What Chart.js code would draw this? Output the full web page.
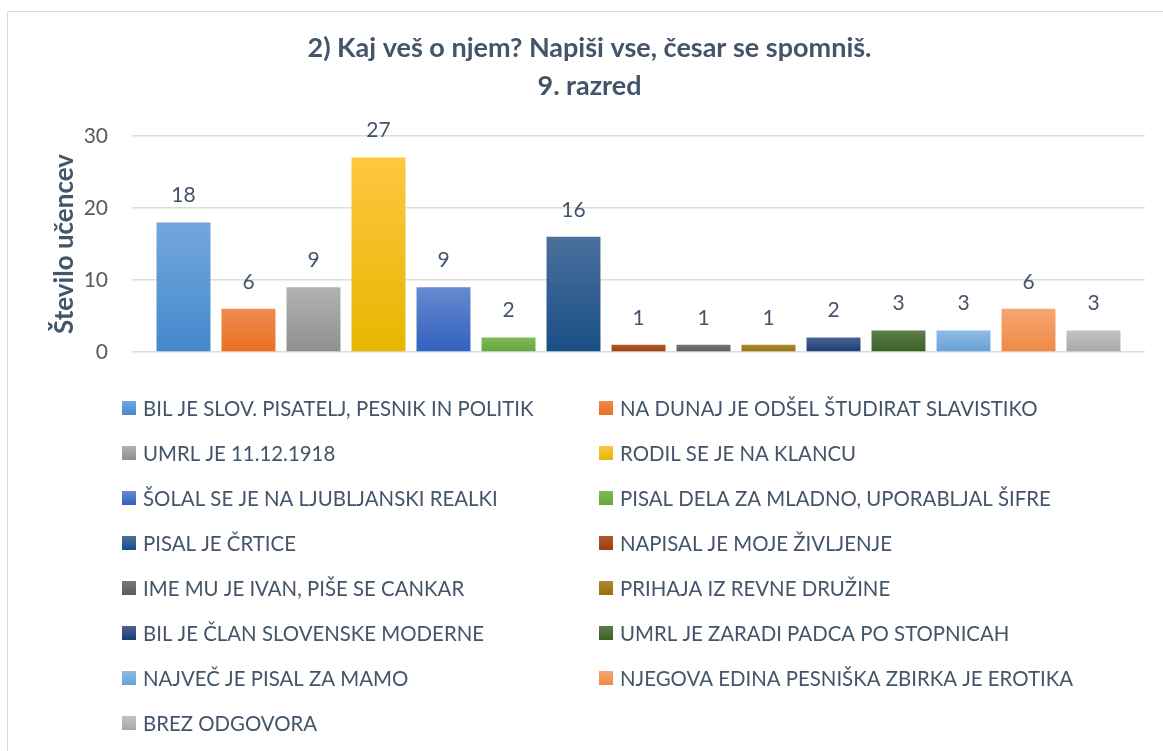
<!DOCTYPE html>
<html>
<head>
<meta charset="utf-8">
<script src="https://cdn.jsdelivr.net/npm/chart.js@4"></script>
<style>
  html, body { margin: 0; padding: 0; background: #ffffff; }
  #wrap { width: 1163px; height: 751px; }
</style>
</head>
<body>
<div id="wrap"><canvas id="chart" width="1163" height="751"></canvas></div>
<script>
const titleLines = ['2) Kaj veš o njem? Napiši vse, česar se spomniš.', '9. razred'];
const axisTitle = 'Število učencev';
const categories = ['9. razred'];
const answers = [
    'BIL JE SLOV. PISATELJ, PESNIK IN POLITIK',
    'NA DUNAJ JE ODŠEL ŠTUDIRAT SLAVISTIKO',
    'UMRL JE 11.12.1918',
    'RODIL SE JE NA KLANCU',
    'ŠOLAL SE JE NA LJUBLJANSKI REALKI',
    'PISAL DELA ZA MLADNO, UPORABLJAL ŠIFRE',
    'PISAL JE ČRTICE',
    'NAPISAL JE MOJE ŽIVLJENJE',
    'IME MU JE IVAN, PIŠE SE CANKAR',
    'PRIHAJA IZ REVNE DRUŽINE',
    'BIL JE ČLAN SLOVENSKE MODERNE',
    'UMRL JE ZARADI PADCA PO STOPNICAH',
    'NAJVEČ JE PISAL ZA MAMO',
    'NJEGOVA EDINA PESNIŠKA ZBIRKA JE EROTIKA',
    'BREZ ODGOVORA'
];
const counts = [18, 6, 9, 27, 9, 2, 16, 1, 1, 1, 2, 3, 3, 6, 3];
const yTicks = [0, 10, 20, 30];

// gradient colours per bar (top -> bottom)
const topColors = ['#72a7dc', '#f08a4f', '#b2b2b2', '#ffc640', '#6789d0', '#7fba57', '#4c6f9c', '#b0582e',
    '#787878', '#ad8a3c', '#4a6396', '#5f7e4a', '#8dbce6', '#f4a672', '#c3c3c3'];
const bottomColors = ['#4488cc', '#e9701f', '#8f8f8f', '#e6b600', '#3161bf', '#64a63a', '#184f86', '#9c4008',
    '#5b5b5b', '#977000', '#1c3b72', '#3a6124', '#68a1d6', '#ef8a45', '#a8a8a8'];

const FONT = 'Lato, "Open Sans", sans-serif';
const TEXT = '#44546a';

function barGradient(context, i) {
    const chart = context.chart;
    const { chartArea, scales } = chart;
    if (!chartArea || !scales.y) return bottomColors[i];
    const top = scales.y.getPixelForValue(counts[i]);
    const base = scales.y.getPixelForValue(0);
    const g = chart.ctx.createLinearGradient(0, top, 0, base);
    g.addColorStop(0, topColors[i]);
    g.addColorStop(1, bottomColors[i]);
    return g;
}

const framePlugin = {
    id: 'frame',
    beforeDraw(chart) {
        const ctx = chart.ctx;
        ctx.save();
        ctx.fillStyle = '#ffffff';
        ctx.fillRect(0, 0, chart.width, chart.height);
        ctx.strokeStyle = '#d9d9d9';
        ctx.lineWidth = 1;
        ctx.beginPath();
        ctx.moveTo(7.5, chart.height);
        ctx.lineTo(7.5, 11.5);
        ctx.lineTo(chart.width, 11.5);
        ctx.stroke();
        ctx.restore();
    }
};

const valueLabels = {
    id: 'valueLabels',
    afterDatasetsDraw(chart) {
        const ctx = chart.ctx;
        ctx.save();
        ctx.font = '21px ' + FONT;
        ctx.fillStyle = TEXT;
        ctx.textAlign = 'center';
        ctx.textBaseline = 'middle';
        chart.data.datasets.forEach((ds, i) => {
            const bar = chart.getDatasetMeta(i).data[0];
            ctx.fillText(String(ds.data[0]), bar.x, bar.y - 27);
        });
        ctx.restore();
    }
};

const twoColumnLegend = {
    id: 'twoColumnLegend',
    afterDraw(chart) {
        const ctx = chart.ctx;
        const colX = [122, 599];
        const firstRow = chart.chartArea.bottom + 56;
        const rowStep = 45;
        ctx.save();
        ctx.font = '20.4px ' + FONT;
        ctx.textBaseline = 'middle';
        chart.data.datasets.forEach((ds, i) => {
            const x = colX[i % 2];
            const y = firstRow + Math.floor(i / 2) * rowStep;
            const g = ctx.createLinearGradient(0, y - 7, 0, y + 7);
            g.addColorStop(0, topColors[i]);
            g.addColorStop(1, bottomColors[i]);
            ctx.fillStyle = g;
            ctx.fillRect(x, y - 7, 14, 14);
            ctx.fillStyle = TEXT;
            ctx.fillText(ds.label, x + 21, y + 1);
        });
        ctx.restore();
    }
};

const chart = new Chart(document.getElementById('chart'), {
    type: 'bar',
    data: {
        labels: categories,
        datasets: answers.map((name, i) => ({
            label: name,
            data: [counts[i]],
            backgroundColor: (context) => barGradient(context, i),
            borderWidth: 0,
            categoryPercentage: 0.9625,
            barPercentage: 0.83
        }))
    },
    options: {
        responsive: false,
        animation: false,
        devicePixelRatio: 1,
        layout: {
            padding: { left: 34, right: 18, top: 0, bottom: 399 }
        },
        plugins: {
            legend: { display: false },
            tooltip: { enabled: false },
            title: {
                display: true,
                text: titleLines,
                color: TEXT,
                font: { family: FONT, size: 27, weight: 'bold', lineHeight: '38px' },
                padding: { top: 29, bottom: 31 }
            }
        },
        scales: {
            x: { display: false },
            y: {
                min: 0,
                max: 30,
                afterBuildTicks: (scale) => {
                    scale.ticks = yTicks.map(v => ({ value: v }));
                },
                afterFit: (scale) => {
                    scale.width = 98;
                },
                border: { display: false },
                grid: { color: '#d9dce1', lineWidth: 1.5, drawTicks: false },
                ticks: {
                    color: '#595959',
                    padding: 24,
                    font: { family: FONT, size: 21 }
                },
                title: {
                    display: true,
                    text: axisTitle,
                    color: TEXT,
                    padding: { top: 15, bottom: 0 },
                    font: { family: FONT, size: 26, weight: 'bold' }
                }
            }
        }
    },
    plugins: [framePlugin, valueLabels, twoColumnLegend]
});
</script>
</body>
</html>
